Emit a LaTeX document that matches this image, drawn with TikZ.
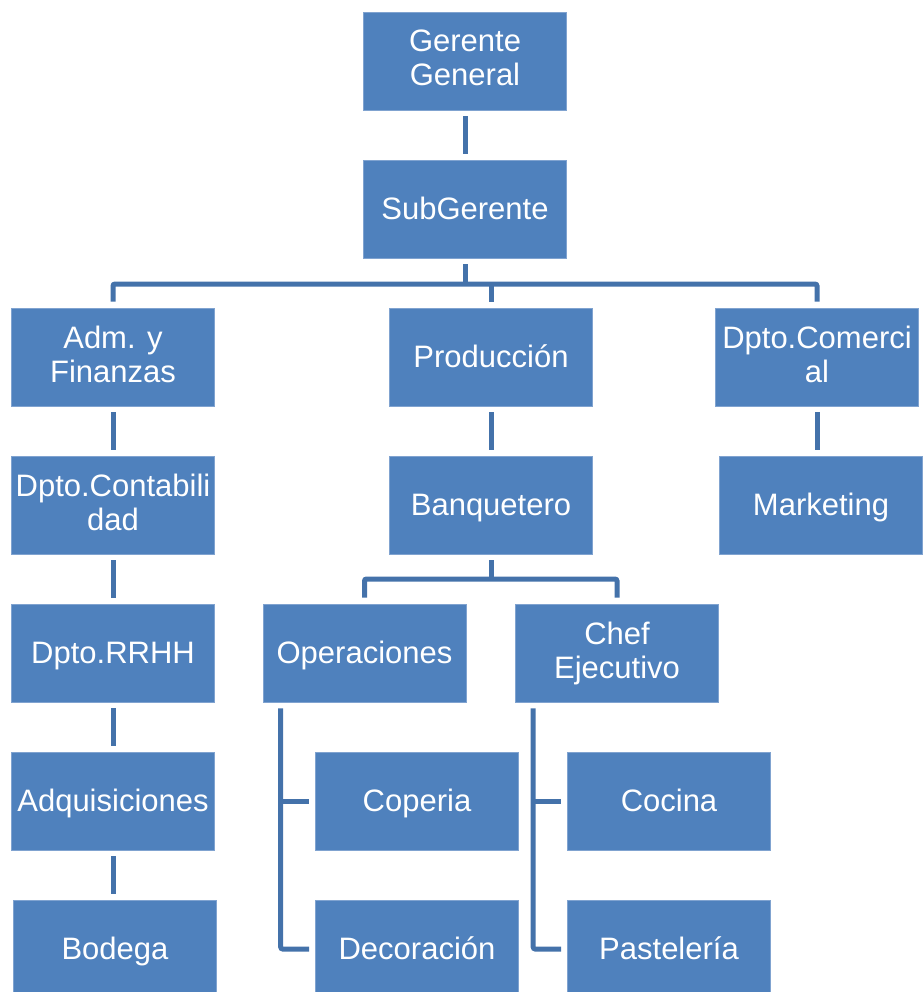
\documentclass[tikz,border=0pt]{standalone}
\usepackage{fontspec}
\setmainfont{Liberation Sans}
\usepackage{tikz}
\usepackage{tkz-euclide}

\definecolor{azulcaixa}{RGB}{79,129,189}
\definecolor{azullinha}{RGB}{68,114,170}
\definecolor{bordacaixa}{RGB}{128,163,208}

\begin{document}
\begin{tikzpicture}[x=1pt,y=-1pt,
  caixa/.style={rectangle,fill=azulcaixa,draw=bordacaixa,line width=0.6pt,
    minimum width=203pt,minimum height=98pt,inner sep=0pt,
    text=white,align=center,font=\fontsize{31}{34}\selectfont,
    execute at begin node={\vphantom{Ég}},execute at end node={\vphantom{g}}},
  linha/.style={draw=azullinha,line width=5pt,rounded corners=2pt}] %caixas e linhas do organograma

\useasboundingbox (0,0) rectangle (922,992);

%O comando \tkzDefPoints define os centros das caixas do organograma (x/y/NomedoPonto), y cresce para baixo
\tkzDefPoints{
465/61/GG,
465/209/SG,
113/357/AF,
491/357/PR,
817/357/DC,
113/505/CT,
491/505/BQ,
821/505/MK,
113/653/RH,
364.5/653/OP,
617/653/CE,
113/801/AQ,
417/801/CP,
669/801/CO,
115/949/BO,
417/949/DE,
669/949/PA,
465/284/B1,
491/579/B2}

%Caixas do organograma
%---------------------------------------------------
\node[caixa] (gerente) at (GG) {Gerente\\General};
\node[caixa] (subgerente) at (SG) {SubGerente};
\node[caixa] (adm) at (AF) {Adm. y\\Finanzas};
\node[caixa] (producao) at (PR) {Producción};
\node[caixa] (comercial) at (DC) {Dpto.Comerci\\al};
\node[caixa] (contab) at (CT) {Dpto.Contabili\\dad};
\node[caixa] (banquetero) at (BQ) {Banquetero};
\node[caixa] (marketing) at (MK) {Marketing};
\node[caixa] (rrhh) at (RH) {Dpto.RRHH};
\node[caixa] (operacoes) at (OP) {Operaciones};
\node[caixa] (chef) at (CE) {Chef\\Ejecutivo};
\node[caixa] (adquis) at (AQ) {Adquisiciones};
\node[caixa] (coperia) at (CP) {Coperia};
\node[caixa] (cocina) at (CO) {Cocina};
\node[caixa] (bodega) at (BO) {Bodega};
\node[caixa] (decoracao) at (DE) {Decoración};
\node[caixa] (pastelaria) at (PA) {Pastelería};
%---------------------------------------------------

%Do Gerente ao SubGerente e do SubGerente a barra que liga os tres departamentos
%---------------------------------------------------
\draw[linha] ([yshift=-6pt]gerente.south) -- ([yshift=6pt]subgerente.north);
\draw[linha] ([yshift=-6pt]subgerente.south) -- (subgerente.south |- B1);
\draw[linha] ([yshift=6pt]adm.north) |- (B1) -| ([yshift=6pt]comercial.north);
\draw[linha] ([yshift=6pt]producao.north) -- (producao.north |- B1);
%---------------------------------------------------

%Coluna da esquerda (Adm. y Finanzas ate Bodega)
%---------------------------------------------------
\draw[linha] ([yshift=-6pt]adm.south) -- ([yshift=6pt]contab.north);
\draw[linha] ([yshift=-6pt]contab.south) -- ([yshift=6pt]rrhh.north);
\draw[linha] ([yshift=-6pt]rrhh.south) -- ([yshift=6pt]adquis.north);
\draw[linha] ([yshift=-6pt]adquis.south) -- ([yshift=6pt]adquis.south |- bodega.north);
%---------------------------------------------------

%Coluna da direita (Dpto.Comercial e Marketing)
%---------------------------------------------------
\draw[linha] ([yshift=-6pt]comercial.south) -- ([yshift=6pt]comercial.south |- marketing.north);
%---------------------------------------------------

%Producción, Banquetero e a barra de Operaciones e Chef Ejecutivo
%---------------------------------------------------
\draw[linha] ([yshift=-6pt]producao.south) -- ([yshift=6pt]banquetero.north);
\draw[linha] ([yshift=-6pt]banquetero.south) -- (B2);
\draw[linha] ([yshift=6pt]operacoes.north) |- (B2) -| ([yshift=6pt]chef.north);
%---------------------------------------------------

%Ramos de Operaciones (Coperia, Decoración) e de Chef Ejecutivo (Cocina, Pastelería)
%---------------------------------------------------
\draw[linha] ([xshift=18pt,yshift=-6pt]operacoes.south west) |- ([xshift=-6pt]decoracao.west);
\draw[linha] ([xshift=18pt]operacoes.south west |- coperia.west) -- ([xshift=-6pt]coperia.west);
\draw[linha] ([xshift=18pt,yshift=-6pt]chef.south west) |- ([xshift=-6pt]pastelaria.west);
\draw[linha] ([xshift=18pt]chef.south west |- cocina.west) -- ([xshift=-6pt]cocina.west);
%---------------------------------------------------

\end{tikzpicture}
\end{document}
